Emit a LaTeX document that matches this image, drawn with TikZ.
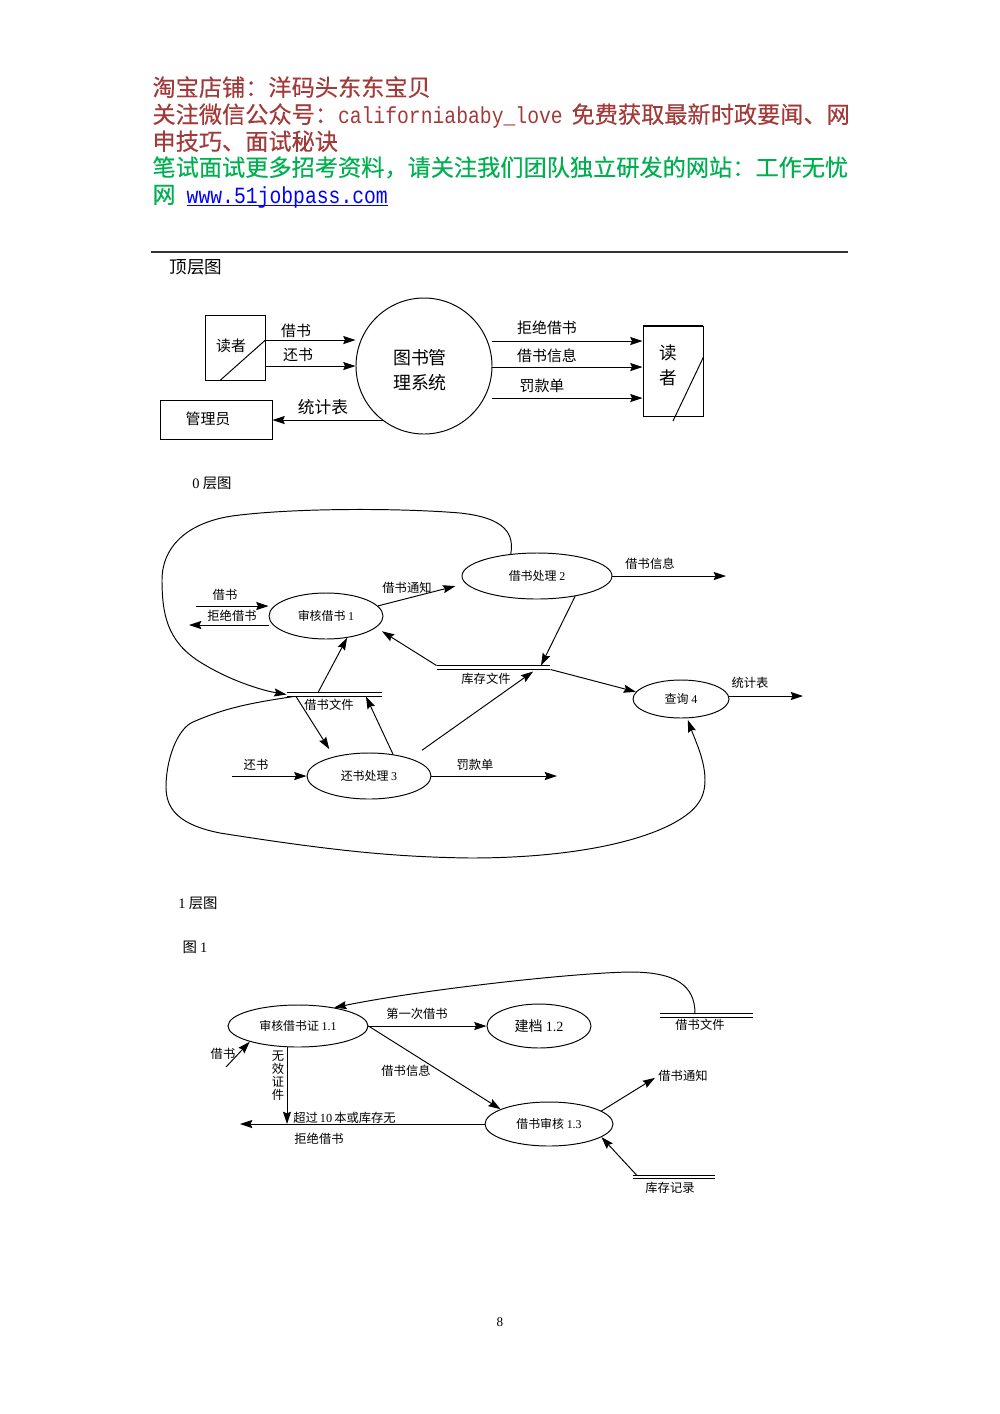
\documentclass[tikz,border=0pt]{standalone}
\usepackage{fontspec}
\setmainfont{Liberation Serif}
\newfontfamily\cjk{Noto Sans CJK SC}
\newfontfamily\cjkhead[FakeBold=0.35]{Noto Sans CJK SC}
\newfontfamily\monolat[FakeStretch=0.85]{Liberation Mono}
\usetikzlibrary{shapes.geometric,arrows.meta}
\definecolor{headred}{HTML}{A23A3A}
\definecolor{headgreen}{HTML}{00B050}
\tikzset{
>={Stealth[length=7pt,width=4.6pt,inset=1pt]},
  head/.style={
    anchor=base west,
    inner sep=0pt,
    font=\fontsize{13.2}{15}\selectfont\cjkhead},
  caption/.style={
    inner sep=0pt,
    font=\fontsize{#1}{#1}\selectfont\cjk},
  caption/.default=8.2,
  lab/.style={
    inner sep=0pt,
    font=\fontsize{7}{8}\selectfont\cjk},
  biglab/.style={
    inner sep=0pt,
    font=\fontsize{8.5}{10}\selectfont\cjk},
  proc/.style 2 args={
    ellipse,
    draw,
    inner sep=0pt,
    minimum width=2*#1*.02cm,
    minimum height=2*#2*.02cm,
    font=\fontsize{6.8}{8}\selectfont\cjk},
  term/.style 2 args={
    rectangle,
    draw,
    inner sep=0pt,
    minimum width=#1*.02cm,
    minimum height=#2*.02cm,
    font=\fontsize{8.5}{10}\selectfont\cjk},
  store/.style={
    inner sep=0pt,
    minimum width=#1*.02cm,
    minimum height=3*.02cm},
  every path/.style={line width=.55pt},
  flow/.style={draw, ->},
}
\newcommand{\lat}[1]{{\rmfamily #1}}

\begin{document}
\begin{tikzpicture}[x=.02cm, y=-.02cm]
     \useasboundingbox (0,0) rectangle (1000,1414);
     % page heading
     \node[head, text=headred] (HeadShop) at (152,96) {淘宝店铺：洋码头东东宝贝};
     \node[head, text=headred] (HeadWechat) at (152,123) {关注微信公众号：{\monolat californiababy\_love}\hspace{5pt}免费获取最新时政要闻、网};
     \node[head, text=headred] (HeadWechatB) at (152,150) {申技巧、面试秘诀};
     \node[head, text=headgreen] (HeadSite) at (152,176) {笔试面试更多招考资料，请关注我们团队独立研发的网站：工作无忧};
     \node[head, text=headgreen] (HeadSiteB) at (152,203) {网\hspace{6.3pt}\textcolor{blue}{\underline{\smash{\monolat www.51jobpass.com}}}};
     \draw[line width=.9pt, black!80] (151,252) -- (848,252);

     % top level
     \node[caption=10] (TitleTop) at (196,267) {顶层图};
     \node[term={60}{65}] (ReaderIn) at (235,347.5) {};
     \node[biglab] (ReaderInText) at (231,346) {读者};
     \node[circle, draw, inner sep=0pt, minimum size=136*.02cm] (LibSystem) at (424,366) {};
     \node[inner sep=0pt, font=\fontsize{10.2}{14.5}\selectfont\cjk, align=center] (LibSystemText) at (420,370) {图书管\\理系统};
     \node[term={60}{90}] (ReaderOut) at (673,371) {};
     \node[caption=10] (ReaderOutA) at (668,353) {读};
     \node[caption=10] (ReaderOutB) at (668,378) {者};
     \node[term={112}{39}] (Admin) at (216,419.5) {};
     \node[biglab] (AdminText) at (208,419) {管理员};
     \draw (ReaderIn.south) ++(-15,0) -- (ReaderIn.east |- 0,340);
     \draw (ReaderOut.east |- 0,357) -- (673,421);
     \draw[line width=1pt] (ReaderOut.north west) -- (ReaderOut.north east);

     \path[flow] (ReaderIn.east |- 0,340) -- (LibSystem.west |- 0,340);
     \path[flow] (ReaderIn.east |- 0,366) -- (LibSystem.west |- 0,366);
     \path[flow] (LibSystem.east |- 0,341) -- (ReaderOut.west |- 0,341);
     \path[flow] (LibSystem.east |- 0,367) -- (ReaderOut.west |- 0,367);
     \path[flow] (LibSystem.east |- 0,398) -- (ReaderOut.west |- 0,398);
     \path[flow] (383,420) -- (Admin.east |- 0,420);
     \node[biglab] (LabBorrow) at (296,331) {借书};
     \node[biglab] (LabReturn) at (298,355) {还书};
     \node[biglab] (LabRefuse) at (547,328) {拒绝借书};
     \node[biglab] (LabInfo) at (547,356) {借书信息};
     \node[biglab] (LabFine) at (542,386) {罚款单};
     \node[caption=9.5] (LabStat) at (323,407) {统计表};

     % level 0
     \node[caption] (TitleZero) at (212,483) {\lat{0} 层图};
     \node[proc={57}{23}] (Audit1) at (326,616) {审核借书 \lat{1}};
     \node[proc={75}{23}] (Borrow2) at (537,576) {借书处理 \lat{2}};
     \node[proc={62}{23}] (Return3) at (369,776) {还书处理 \lat{3}};
     \node[proc={48}{19}] (Query4) at (681,699) {查询 \lat{4}};
     \node[store=113] (StoreStock) at (493.5,667.5) {};
     \node[store=95] (StoreBook) at (334.5,694.5) {};
     \coordinate (BorrowIn) at (196,606);
     \coordinate (RefuseOut) at (189,625);
     \coordinate (InfoOut) at (726,576);
     \coordinate (StatOut) at (803,696);
     \coordinate (ReturnIn) at (232,776);
     \coordinate (FineOut) at (557,776);

     \path[flow] (BorrowIn) -- (Audit1.west |- BorrowIn);
     \path[flow] (Audit1.west |- RefuseOut) -- (RefuseOut);
     \path[flow, shorten >=6pt] (Audit1.11) -- (Borrow2.186);
     \path[flow] (Borrow2.east) -- (InfoOut);
     \path[flow] (Borrow2.-28) -- (541,0 |- StoreStock.north);
     \path[flow, shorten >=4pt] (StoreStock.north west) -- (Audit1.-13);
     \path[flow] (StoreStock.south east) -- (Query4.171);
     \path[flow] (318,0 |- StoreBook.north) -- (Audit1.-46);
     \path[flow, shorten >=5pt] (296,0 |- StoreBook.south) -- (Return3.151);
     \path[flow] (Return3.42) -- (366,0 |- StoreBook.south);
     \path[flow, shorten <=8pt, shorten >=2pt] (Return3.23) -- (536,0 |- StoreStock.south);
     \path[flow] (ReturnIn) -- (Return3.west);
     \path[flow] (Return3.east) -- (FineOut);
     \path[flow] (Query4.east |- StatOut) -- (StatOut);
     \path[flow] (Borrow2.140) .. controls (514,535) and (507,518) .. (460,513)
        .. controls (400,508) and (300,508) .. (240,515)
        .. controls (190,520) and (162,545) .. (162,580)
        .. controls (162,620) and (170,645) .. (205,665)
        .. controls (230,680) and (260,690) .. (StoreBook.west);
     \path[flow, shorten >=1pt] (294,0 |- StoreBook.south) .. controls (250,703) and (225,708) .. (193,722)
        .. controls (177,729) and (166,760) .. (166,787)
        .. controls (166,810) and (180,825) .. (220,833)
        .. controls (340,852) and (400,857) .. (470,858)
        .. controls (560,858) and (630,845) .. (670,825)
        .. controls (695,812) and (705,800) .. (705,780)
        .. controls (705,760) and (695,740) .. (Query4.-72);

     \node[lab] (LabBorrowZ) at (225,595) {借书};
     \node[lab] (LabRefuseZ) at (232,616) {拒绝借书};
     \node[lab] (LabNotice) at (407,588) {借书通知};
     \node[lab] (LabInfoZ) at (650,564) {借书信息};
     \node[lab] (LabStock) at (486,679) {库存文件};
     \node[lab] (LabBook) at (329,705) {借书文件};
     \node[lab] (LabStatZ) at (750,683) {统计表};
     \node[lab] (LabReturnZ) at (256,765) {还书};
     \node[lab] (LabFineZ) at (475,765) {罚款单};

     % level 1
     \node[caption] (TitleOne) at (198,903) {\lat{1} 层图};
     \node[caption] (TitleFig) at (195,947) {图 \lat{1}};
     \node[proc={70}{21}] (Cert11) at (298,1026) {\raisebox{-1.5pt}{审核借书证 \lat{1.1}}};
     \node[proc={52}{22}, font=\fontsize{8}{9}\selectfont\cjk] (File12) at (539,1026) {建档 \lat{1.2}};
     \node[proc={64}{22}] (Check13) at (549,1124) {借书审核 \lat{1.3}};
     \node[store=93] (StoreFile) at (706.5,1015.5) {};
     \node[store=82, minimum height=2*.02cm] (StoreRec) at (674,1177) {};
     \node[lab] (LabNoticeO) at (683,1076) {借书通知};
     \coordinate (BorrowInO) at (226,1067);
     \coordinate (RefuseEnd) at (240,1124);

     \path[flow] (695,0 |- StoreFile.north) .. controls (695,985) and (675,972) .. (630,972)
        .. controls (570,973) and (420,990) .. (Cert11.27);
     \path[flow] (Cert11.east) -- (File12.west);
     \path[flow] (Cert11.east) -- (Check13.163);
     \path[flow] (BorrowInO) -- (Cert11.198);
     \path[flow] (287,0 |- Cert11.south) -- (287,0 |- RefuseEnd);
     \path[flow] (Check13.west) -- (RefuseEnd);
     \path[flow, shorten >=2pt] (Check13.14) -- (LabNoticeO.west);
     \path[flow] (637,0 |- StoreRec.north) -- (Check13.-14);

     \node[lab] (LabFirst) at (417,1014) {第一次借书};
     \node[lab] (LabInfoO) at (406,1071) {借书信息};
     \node[lab] (LabBorrowO) at (223,1054) {借书};
     \node[lab, align=center, font=\fontsize{7}{7.4}\selectfont\cjk] (LabInvalid) at (278,1076) {无\\效\\证\\件};
     \node[lab] (LabOver) at (344.5,1118) {超过\,\lat{10}\,本或库存无};
     \node[lab] (LabRefuseO) at (319,1139) {拒绝借书};
     \node[lab] (LabFileO) at (700,1025) {借书文件};
     \node[lab] (LabRec) at (670,1188) {库存记录};

     % double lines of the stores
     \foreach \s in {StoreStock,StoreBook,StoreFile,StoreRec} {
       \draw (\s.north west) -- (\s.north east) (\s.south west) -- (\s.south east);
     }
     \node[inner sep=0pt, font=\fontsize{7.5}{8}\selectfont] (PageNum) at (500,1322) {8};
\end{tikzpicture}
\end{document}
